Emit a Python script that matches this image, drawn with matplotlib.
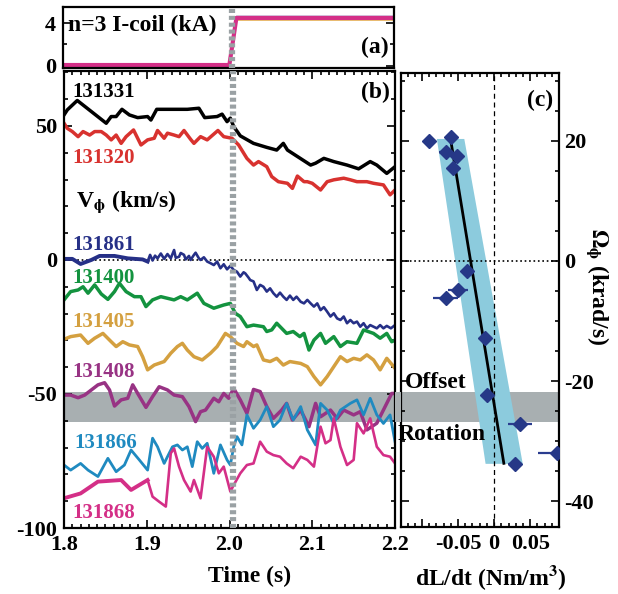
import numpy as np
import matplotlib.pyplot as plt
from matplotlib.patches import Rectangle
from matplotlib.ticker import MultipleLocator

plt.rcParams['font.family'] = ['Liberation Serif', 'DejaVu Serif']
plt.rcParams['font.weight'] = 'bold'
plt.rcParams['axes.labelweight'] = 'bold'
plt.rcParams['mathtext.fontset'] = 'stix'
plt.rcParams['axes.unicode_minus'] = False

# (a) I-coil current, kA
coil_t = [1.800, 2.001, 2.0095, 2.200]
coil_levels = {
    '#e0a030': [0.05, 0.05, 4.30, 4.30],
    '#1f8fc0': [0.15, 0.15, 4.55, 4.55],
    '#17953f': [0.10, 0.10, 4.45, 4.45],
    '#263087': [0.12, 0.12, 4.60, 4.60],
    '#d42f87': [0.08, 0.08, 4.48, 4.48],
}

# (b) toroidal rotation, km/s
shots = ['131331', '131320', '131861', '131400', '131405', '131408', '131866', '131868']
colors = ['black', '#d8322f', '#263087', '#13933f', '#d4a040', '#983384', '#1f8ac0', '#d42f87']

t_131331 = [1.800, 1.804, 1.816, 1.851, 1.857, 1.863, 1.870, 1.879, 1.889, 1.901, 1.905, 1.912,
            1.925, 1.949, 1.963, 1.970, 1.985, 1.991, 1.997, 2.001, 2.005, 2.013, 2.029, 2.045,
            2.057, 2.065, 2.070, 2.082, 2.098, 2.104, 2.114, 2.126, 2.142, 2.156, 2.170, 2.178,
            2.190, 2.200]
v_131331 = [54.1, 56.0, 59.5, 51.0, 53.5, 53.5, 56.2, 54.1, 53.1, 53.5, 52.2, 56.2,
            56.2, 56.2, 56.6, 53.1, 53.5, 54.4, 51.6, 52.9, 49.8, 46.3, 43.5, 42.0,
            41.0, 43.5, 41.0, 38.6, 35.4, 36.1, 37.9, 36.7, 35.4, 34.0, 36.7, 35.4,
            32.3, 34.8]

t_131320 = [1.800, 1.804, 1.810, 1.817, 1.823, 1.831, 1.837, 1.845, 1.851, 1.857, 1.863, 1.869,
            1.875, 1.884, 1.893, 1.901, 1.909, 1.913, 1.921, 1.925, 1.933, 1.939, 1.945, 1.953,
            1.957, 1.965, 1.973, 1.986, 1.993, 2.003, 2.011, 2.021, 2.029, 2.035, 2.045, 2.051,
            2.059, 2.070, 2.076, 2.082, 2.090, 2.094, 2.100, 2.110, 2.118, 2.126, 2.138, 2.146,
            2.154, 2.166, 2.174, 2.186, 2.194, 2.200]
v_131320 = [51.0, 49.1, 47.9, 46.0, 47.9, 46.6, 47.9, 47.9, 46.6, 44.8, 46.6, 43.5,
            46.0, 48.5, 42.9, 44.8, 45.4, 48.3, 45.4, 47.3, 46.6, 46.0, 48.3, 45.0,
            43.5, 46.0, 44.8, 48.3, 46.0, 45.4, 42.9, 37.9, 35.4, 36.7, 34.8, 31.1,
            29.2, 28.6, 26.7, 31.3, 29.2, 29.2, 28.6, 26.1, 29.2, 29.9, 30.5, 29.9,
            29.2, 29.2, 28.6, 28.0, 24.3, 26.1]

t_131861 = [1.800, 1.810, 1.820, 1.833, 1.843, 1.861, 1.877, 1.895, 1.901, 1.904, 1.907, 1.910,
            1.913, 1.917, 1.921, 1.925, 1.929, 1.933, 1.935, 1.939, 1.941, 1.945, 1.947, 1.951,
            1.953, 1.957, 1.959, 1.963, 1.965, 1.969, 1.973, 1.977, 1.981, 1.985, 1.989, 1.993,
            1.997, 2.001, 2.005, 2.009, 2.013, 2.017, 2.019, 2.023, 2.025, 2.029, 2.033, 2.037,
            2.041, 2.045, 2.049, 2.053, 2.057, 2.061, 2.065, 2.069, 2.073, 2.077, 2.081, 2.086,
            2.090, 2.094, 2.098, 2.102, 2.106, 2.110, 2.114, 2.118, 2.122, 2.126, 2.130, 2.134,
            2.138, 2.142, 2.146, 2.150, 2.154, 2.158, 2.162, 2.166, 2.170, 2.174, 2.178, 2.182,
            2.186, 2.190, 2.195, 2.200]
v_131861 = [0.4, 0.4, -1.5, 0.0, 1.5, 1.5, 0.6, 0.2, -0.6, 1.9, -0.2, 1.6,
            0.6, 2.4, 0.4, 2.2, 0.6, 3.7, 0.8, 1.2, 2.6, 1.9, 0.2, 1.5,
            0.0, 1.9, 2.7, 0.6, 0.0, 1.0, -0.6, -1.2, -1.9, -0.6, -3.1, -1.6,
            -3.5, -2.2, -3.7, -4.4, -6.2, -4.6, -5.0, -6.6, -7.5, -8.0, -11.2, -9.3,
            -10.0, -11.8, -10.6, -12.4, -13.7, -12.2, -13.7, -14.9, -13.3, -14.9, -13.7, -15.6,
            -16.2, -14.9, -16.2, -17.4, -16.2, -18.7, -17.6, -19.3, -21.1, -19.9, -21.8, -22.4,
            -21.1, -23.6, -22.4, -23.6, -23.0, -24.9, -23.6, -25.5, -24.3, -24.9, -25.5, -24.3,
            -25.5, -24.6, -25.5, -24.3]

t_131400 = [1.800, 1.808, 1.817, 1.823, 1.829, 1.837, 1.845, 1.853, 1.861, 1.867, 1.875, 1.885,
            1.893, 1.899, 1.907, 1.917, 1.933, 1.941, 1.949, 1.961, 1.969, 1.981, 1.993, 2.001,
            2.007, 2.013, 2.021, 2.029, 2.041, 2.045, 2.051, 2.057, 2.063, 2.069, 2.077, 2.085,
            2.090, 2.096, 2.102, 2.110, 2.116, 2.126, 2.134, 2.142, 2.154, 2.162, 2.174, 2.182,
            2.190, 2.196, 2.200]
v_131400 = [-14.9, -11.8, -11.2, -10.0, -12.4, -9.3, -12.7, -14.7, -11.8, -8.7, -11.8, -13.7,
            -13.7, -17.4, -14.9, -13.7, -14.9, -13.7, -14.9, -12.4, -16.2, -18.0, -16.8, -16.2,
            -19.9, -21.1, -24.9, -24.3, -24.9, -26.7, -26.1, -23.6, -25.5, -27.4, -26.7, -28.6,
            -27.4, -33.6, -29.9, -27.4, -31.1, -28.6, -32.3, -30.5, -31.1, -26.1, -27.4, -29.2,
            -27.4, -30.5, -29.9]

t_131405 = [1.800, 1.808, 1.820, 1.829, 1.837, 1.847, 1.857, 1.863, 1.871, 1.879, 1.889, 1.895,
            1.901, 1.909, 1.921, 1.929, 1.937, 1.943, 1.949, 1.957, 1.967, 1.977, 1.985, 1.995,
            2.001, 2.009, 2.017, 2.021, 2.029, 2.033, 2.041, 2.049, 2.057, 2.065, 2.073, 2.086,
            2.094, 2.102, 2.110, 2.118, 2.126, 2.134, 2.142, 2.150, 2.158, 2.166, 2.174, 2.182,
            2.190, 2.200]
v_131405 = [-29.6, -28.6, -28.0, -31.1, -29.2, -27.4, -30.5, -32.3, -30.5, -31.7, -32.3, -36.1,
            -41.0, -39.2, -37.9, -34.8, -32.3, -31.1, -33.6, -36.1, -37.3, -34.8, -32.3, -27.4,
            -28.6, -31.1, -32.3, -30.5, -32.3, -31.7, -37.3, -37.9, -36.7, -39.2, -37.9, -38.6,
            -39.8, -43.5, -46.6, -43.5, -39.8, -36.1, -37.9, -36.7, -37.3, -35.4, -37.3, -41.0,
            -36.7, -40.4]

t_131408 = [1.800, 1.808, 1.817, 1.825, 1.833, 1.841, 1.849, 1.855, 1.861, 1.869, 1.877, 1.883,
            1.889, 1.899, 1.907, 1.915, 1.925, 1.933, 1.943, 1.951, 1.959, 1.965, 1.971, 1.981,
            1.987, 1.993, 1.999, 2.005, 2.013, 2.021, 2.029, 2.037, 2.045, 2.053, 2.063, 2.069,
            2.076, 2.086, 2.096, 2.104, 2.110, 2.122, 2.130, 2.138, 2.150, 2.158, 2.166, 2.178,
            2.190, 2.196, 2.200]
v_131408 = [-50.4, -50.4, -51.4, -50.4, -48.5, -46.6, -45.8, -48.5, -54.5, -52.2, -51.6, -46.6,
            -49.8, -55.0, -51.0, -47.3, -48.5, -50.4, -51.0, -54.7, -60.3, -56.6, -56.0, -51.6,
            -52.9, -49.8, -51.6, -47.9, -52.2, -57.2, -48.3, -49.1, -54.7, -59.1, -56.0, -53.5,
            -59.7, -56.0, -62.2, -53.5, -58.5, -56.0, -59.1, -56.0, -57.8, -56.6, -63.4, -60.9,
            -53.5, -49.8, -49.8]

t_131866 = [1.800, 1.808, 1.820, 1.829, 1.841, 1.853, 1.863, 1.873, 1.881, 1.891, 1.901, 1.907,
            1.913, 1.921, 1.925, 1.931, 1.937, 1.943, 1.949, 1.955, 1.961, 1.967, 1.973, 1.981,
            1.989, 1.997, 2.001, 2.005, 2.009, 2.015, 2.021, 2.029, 2.037, 2.045, 2.053, 2.061,
            2.069, 2.077, 2.086, 2.094, 2.104, 2.110, 2.118, 2.126, 2.134, 2.146, 2.154, 2.162,
            2.170, 2.178, 2.186, 2.194, 2.200]
v_131866 = [-76.5, -78.4, -75.9, -78.4, -80.8, -74.0, -79.0, -76.5, -70.9, -74.6, -78.4, -66.5,
            -69.7, -75.9, -73.4, -69.7, -69.0, -70.9, -69.7, -77.1, -67.8, -70.3, -68.4, -79.6,
            -69.0, -74.6, -76.5, -69.7, -65.9, -69.0, -57.8, -62.8, -59.7, -54.7, -62.2, -59.7,
            -53.5, -59.7, -54.7, -63.4, -69.0, -53.5, -56.0, -61.0, -56.0, -53.5, -52.2, -57.8,
            -51.6, -57.8, -61.0, -57.8, -67.8]

t_131868 = [1.800, 1.820, 1.841, 1.869, 1.881, 1.901, 1.907, 1.915, 1.923, 1.929, 1.933, 1.939,
            1.945, 1.953, 1.957, 1.965, 1.973, 1.981, 1.987, 1.993, 2.001, 2.005, 2.013, 2.021,
            2.029, 2.037, 2.045, 2.053, 2.061, 2.069, 2.077, 2.086, 2.094, 2.102, 2.110, 2.116,
            2.122, 2.126, 2.134, 2.142, 2.150, 2.154, 2.162, 2.170, 2.178, 2.186, 2.194, 2.200]
v_131868 = [-88.9, -87.1, -82.7, -82.1, -85.8, -82.1, -88.3, -90.2, -92.0, -72.1, -70.3, -77.1,
            -82.1, -86.4, -82.1, -88.9, -69.7, -73.4, -79.6, -77.1, -86.4, -84.0, -79.6, -76.5,
            -75.9, -67.8, -71.5, -72.8, -73.4, -75.9, -77.7, -73.4, -74.6, -77.1, -62.2, -68.4,
            -67.2, -59.1, -69.7, -76.5, -74.6, -60.9, -64.7, -59.1, -69.7, -72.8, -73.4, -75.9]

traces_t = [t_131331, t_131320, t_131861, t_131400, t_131405, t_131408, t_131866, t_131868]
traces_v = [v_131331, v_131320, v_131861, v_131400, v_131405, v_131408, v_131866, v_131868]
label_v = [62.7, 38.1, 5.6, -6.7, -23.1, -41.8, -68.3, -94.4]

# (c) torque density vs rotation
dLdt = [-0.090, -0.060, -0.067, -0.052, -0.057, -0.038, -0.050, -0.067, -0.013, -0.010,
        0.036, 0.087, 0.029]
dLdt_err = [0, 0, 0.0097, 0, 0, 0, 0.014, 0.017, 0, 0, 0.017, 0.026, 0.010]
omega = [20.0, 20.7, 18.2, 17.4, 15.4, -1.7, -4.9, -6.2, -12.9, -22.4, -27.1, -32.0, -33.8]
fit_omega = [20.4, -33.7]
fit_x = [-0.0605, 0.0135]
fit_lo = [-0.080, -0.0125]
fit_hi = [-0.042, 0.039]

band_b = (-60.3, -49.1)   # offset rotation band, km/s
band_c = (-26.8, -21.8)   # same band, krad/s
t_coil = 2.004

fig = plt.figure(figsize=(6.18, 5.94), dpi=100)
ax_a = fig.add_axes([0.102, 0.8855, 0.5356, 0.1027])
ax_b = fig.add_axes([0.1036, 0.1111, 0.5356, 0.7694])
ax_c = fig.add_axes([0.6489, 0.1128, 0.2557, 0.7643])

for ax in (ax_a, ax_b, ax_c):
    for s in ax.spines.values():
        s.set_linewidth(1.6)
    ax.tick_params(which='both', direction='in', top=True, right=True, width=1.2,
                   labelsize=16)
    ax.tick_params(which='major', length=6)
    ax.tick_params(which='minor', length=3)

gray_dash = dict(color='#9aa1a4', lw=4.5, ls=(0, (0.65, 0.45)), zorder=5)

# panel (a)
for c, lev in coil_levels.items():
    lw = 3 if c == '#d42f87' else 1.2
    ax_a.plot(coil_t, lev, color=c, lw=lw)
ax_a.axvline(t_coil, **gray_dash)
ax_a.set_xlim(1.8, 2.2)
ax_a.set_ylim(-0.2, 5.5)
ax_a.set_yticks([0, 4])
ax_a.set_yticks([2], minor=True)
ax_a.set_xticks([])
ax_a.tick_params(axis='y', pad=5)
ax_a.text(0.015, 0.70, 'n=3 I-coil (kA)', transform=ax_a.transAxes, fontsize=17,
          va='center')
ax_a.text(0.985, 0.34, '(a)', transform=ax_a.transAxes, fontsize=17, ha='right', va='center')

# panel (b)
ax_b.axhspan(*band_b, color='#a8afb1', lw=0, zorder=0)
ax_b.axhline(0, color='black', lw=1.2, ls=':', zorder=1)
for name, c, t, v, lv in zip(shots, colors, traces_t, traces_v, label_v):
    t = np.array(t)
    v = np.array(v)
    if name in ('131861', '131868'):
        # smooth early part is drawn heavier, noisy part thinner
        early = t <= 1.901
        ax_b.plot(t[early], v[early], color=c, lw=2.8, zorder=2)
        ax_b.plot(np.r_[t[early][-1], t[~early]], np.r_[v[early][-1], v[~early]],
                  color=c, lw=1.9, zorder=2)
    elif name == '131866':
        ax_b.plot(t, v, color=c, lw=2.0, zorder=2)
    else:
        ax_b.plot(t, v, color=c, lw=2.5, zorder=2)
    x0 = 0.030 if name == '131866' else 0.024
    ax_b.text(x0, lv, name, transform=ax_b.get_yaxis_transform(), color=c,
              fontsize=15, va='center')
ax_b.text(0.036, 21.6, r'V$_{\mathrm{\phi}}$ (km/s)', transform=ax_b.get_yaxis_transform(),
          fontsize=17, va='center')
ax_b.axvline(t_coil, **gray_dash)
ax_b.set_xlim(1.8, 2.2)
ax_b.set_ylim(-100, 70.5)
ax_b.set_xticks([1.8, 1.9, 2.0, 2.1, 2.2])
ax_b.set_xticklabels(['1.8', '1.9', '2.0', '2.1', '2.2'])
ax_b.xaxis.set_minor_locator(MultipleLocator(0.01))
ax_b.set_yticks([-100, -50, 0, 50])
ax_b.yaxis.set_minor_locator(MultipleLocator(10))
ax_b.tick_params(axis='both', pad=5)
ax_b.set_xlabel('Time (s)', fontsize=17)
ax_b.xaxis.set_label_coords(0.562, -0.083)
ax_b.text(0.985, 0.954, '(b)', transform=ax_b.transAxes, fontsize=17, ha='right',
          va='center')

# panel (c)
ax_c.axhspan(*band_c, color='#a8afb1', lw=0, zorder=0)
ax_c.fill_betweenx(fit_omega, fit_lo, fit_hi, color='#8ccbdd', lw=0, zorder=1)
ax_c.axhline(0, color='black', lw=1.2, ls=':', zorder=2)
ax_c.axvline(0, color='black', lw=0.9, ls=(0, (4, 3)), zorder=2)
ax_c.plot(fit_x, fit_omega, color='black', lw=2, zorder=3)
ax_c.errorbar(dLdt, omega, xerr=dLdt_err, fmt='none', ecolor='#2a3c8f', elinewidth=1.6,
              zorder=4)
ax_c.plot(dLdt, omega, ls='none', marker='D', ms=7.5, color='#263887', zorder=5)
ax_c.set_xlim(-0.129, 0.090)
ax_c.set_ylim(-44.3, 31.3)
ax_c.set_xticks([-0.1, -0.05, 0, 0.05])
ax_c.set_xticklabels(['', '-0.05', '0', '0.05'])
ax_c.xaxis.set_minor_locator(MultipleLocator(0.01))
ax_c.set_yticks([-40, -20, 0, 20])
ax_c.yaxis.set_minor_locator(MultipleLocator(5))
ax_c.tick_params(axis='y', labelleft=False, labelright=True, pad=4)
ax_c.tick_params(axis='x', pad=5)
ax_c.set_xlabel(r'dL/dt (Nm/m$^{\mathbf{3}}$)', fontsize=17)
ax_c.xaxis.set_label_coords(0.57, -0.080)
ax_c.yaxis.set_label_position('right')
ax_c.set_ylabel(r'$\Omega_{\mathrm{\phi}}$ (krad/s)', fontsize=17, rotation=-90,
                va='center')
ax_c.yaxis.set_label_coords(1.24, 0.53)
ax_c.text(0.962, 0.94, '(c)', transform=ax_c.transAxes, fontsize=17, ha='right',
          va='center')
ax_c.text(0.025, 0.319, 'Offset', transform=ax_c.transAxes, fontsize=17, va='center',
          zorder=6)
ax_c.text(-0.019, 0.203, 'Rotation', transform=ax_c.transAxes, fontsize=17, va='center',
          zorder=6)

# band across the gap between (b) and (c)
inv = fig.transFigure.inverted()
y_lo = inv.transform(ax_b.transData.transform((2.2, band_b[0])))[1]
y_hi = inv.transform(ax_b.transData.transform((2.2, band_b[1])))[1]
x_l = ax_b.get_position().x1
x_r = ax_c.get_position().x0
fig.patches.append(Rectangle((x_l, y_lo), x_r - x_l, y_hi - y_lo, transform=fig.transFigure,
                             color='#a8afb1', lw=0, zorder=0))

fig.savefig('out.png', dpi=100)
